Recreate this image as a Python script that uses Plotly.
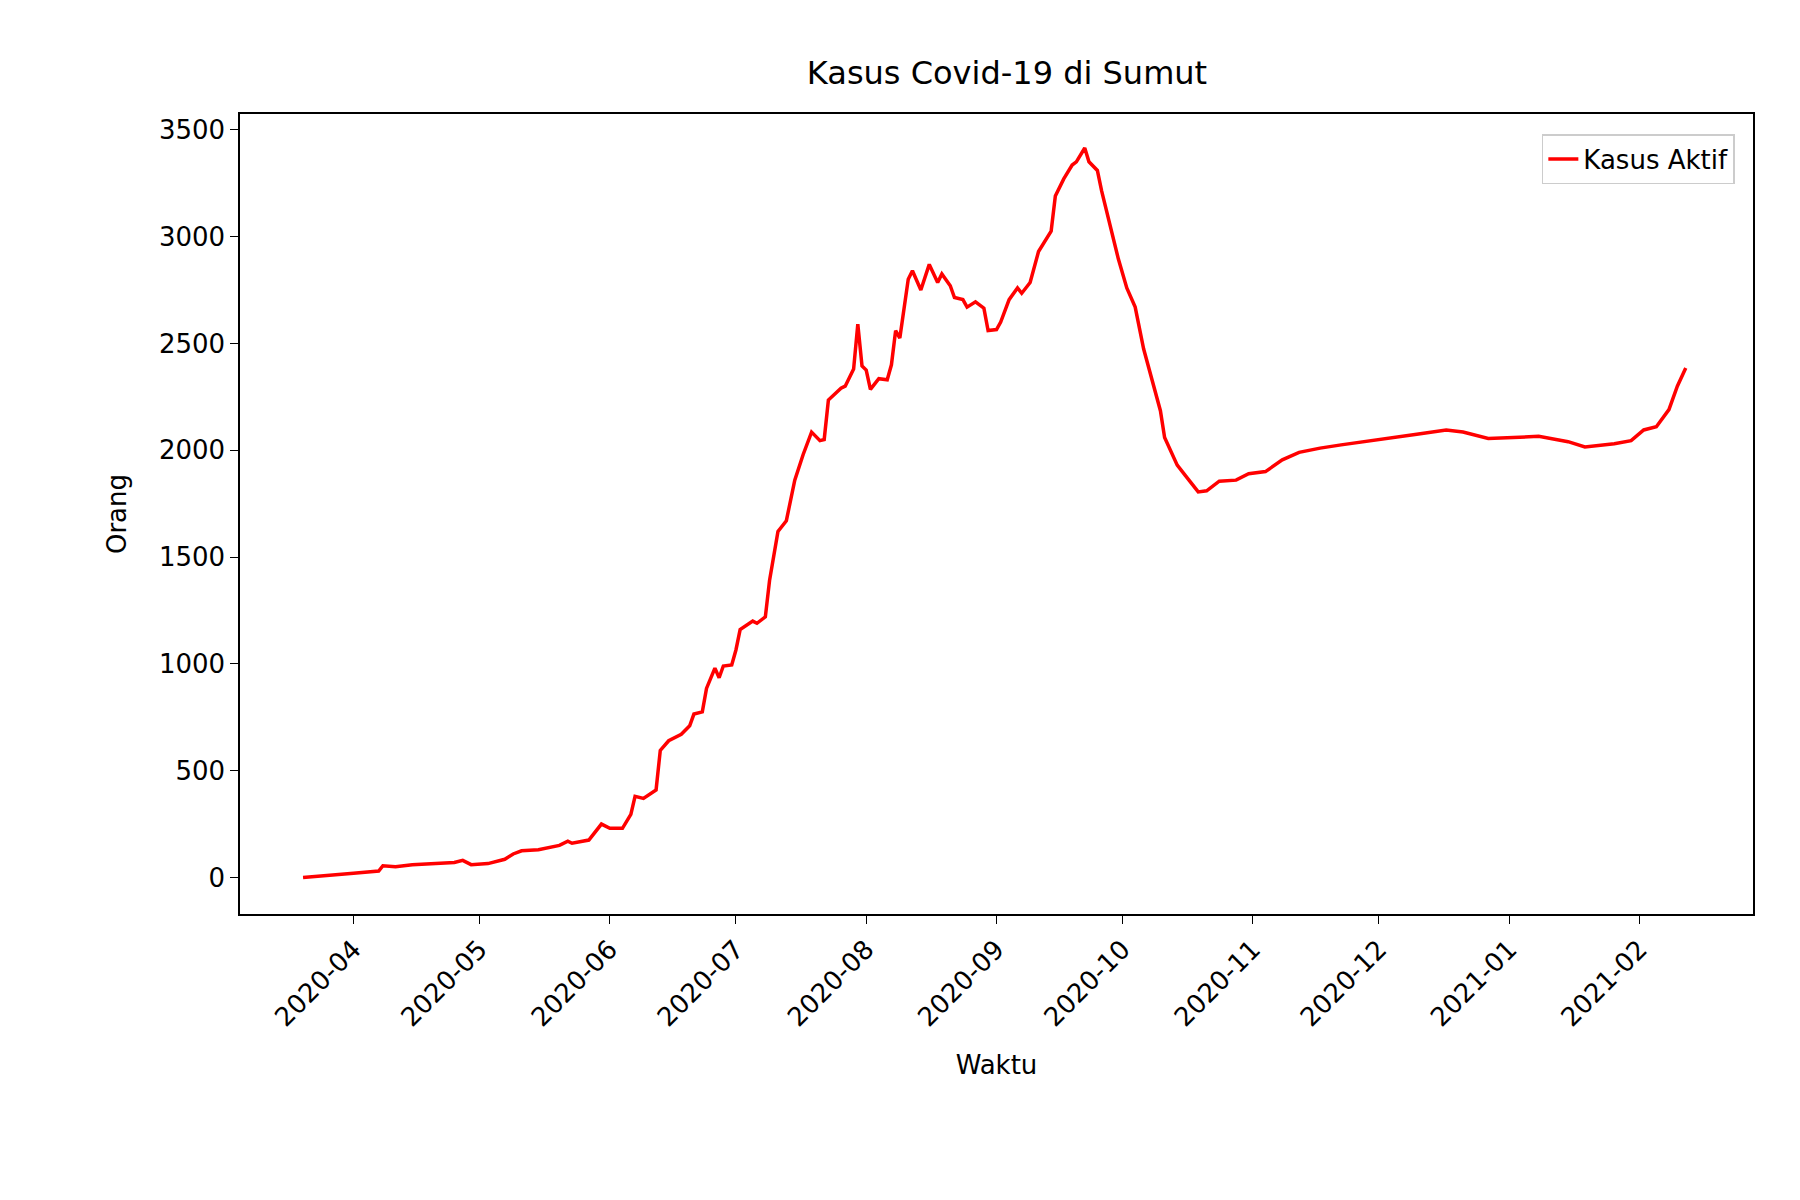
import plotly.graph_objects as go

# Active cases
dates = ["2020-03-20", "2020-03-27", "2020-04-01", "2020-04-07", "2020-04-08", "2020-04-11", "2020-04-15",
         "2020-04-25", "2020-04-27", "2020-04-29", "2020-05-03", "2020-05-07", "2020-05-09", "2020-05-11",
         "2020-05-15", "2020-05-20", "2020-05-22", "2020-05-23", "2020-05-27", "2020-05-30", "2020-06-01",
         "2020-06-04", "2020-06-06", "2020-06-07", "2020-06-09", "2020-06-12", "2020-06-13", "2020-06-15",
         "2020-06-18", "2020-06-20", "2020-06-21", "2020-06-23", "2020-06-24", "2020-06-26", "2020-06-27",
         "2020-06-28", "2020-06-30", "2020-07-01", "2020-07-02", "2020-07-05", "2020-07-06", "2020-07-08",
         "2020-07-09", "2020-07-11", "2020-07-13", "2020-07-15", "2020-07-17", "2020-07-19", "2020-07-21",
         "2020-07-22", "2020-07-23", "2020-07-26", "2020-07-27", "2020-07-29", "2020-07-30", "2020-07-31",
         "2020-08-01", "2020-08-02", "2020-08-04", "2020-08-06", "2020-08-07", "2020-08-08", "2020-08-09",
         "2020-08-11", "2020-08-12", "2020-08-14", "2020-08-16", "2020-08-18", "2020-08-19", "2020-08-21",
         "2020-08-22", "2020-08-24", "2020-08-25", "2020-08-27", "2020-08-29", "2020-08-30", "2020-09-01",
         "2020-09-02", "2020-09-04", "2020-09-06", "2020-09-07", "2020-09-09", "2020-09-11", "2020-09-14",
         "2020-09-15", "2020-09-17", "2020-09-19", "2020-09-20", "2020-09-22", "2020-09-23", "2020-09-25",
         "2020-09-26", "2020-09-28", "2020-09-30", "2020-10-02", "2020-10-04", "2020-10-06", "2020-10-08",
         "2020-10-10", "2020-10-11", "2020-10-14", "2020-10-16", "2020-10-19", "2020-10-21", "2020-10-24",
         "2020-10-28", "2020-10-31", "2020-11-04", "2020-11-08", "2020-11-12", "2020-11-17", "2020-11-22",
         "2020-11-27", "2020-12-02", "2020-12-10", "2020-12-17", "2020-12-21", "2020-12-27", "2021-01-01",
         "2021-01-08", "2021-01-15", "2021-01-19", "2021-01-26", "2021-01-30", "2021-02-02", "2021-02-05",
         "2021-02-08", "2021-02-10", "2021-02-12"]
kasus_aktif = [0, 10, 20, 30, 55, 50, 60,
               70, 80, 60, 65, 85, 110, 125,
               130, 150, 170, 160, 175, 250, 230,
               230, 295, 380, 370, 410, 595, 640,
               670, 710, 765, 775, 885, 980, 935,
               990, 995, 1065, 1160, 1200, 1190, 1220,
               1390, 1620, 1670, 1860, 1980, 2085, 2045,
               2050, 2235, 2290, 2300, 2380, 2590, 2395,
               2375, 2285, 2335, 2330, 2400, 2560, 2525,
               2800, 2840, 2750, 2870, 2785, 2825, 2770,
               2715, 2705, 2670, 2695, 2665, 2560, 2565,
               2600, 2705, 2760, 2735, 2785, 2930, 3025,
               3190, 3270, 3335, 3350, 3415, 3350, 3310,
               3215, 3055, 2895, 2760, 2670, 2475, 2330,
               2185, 2060, 1930, 1880, 1805, 1810, 1855,
               1860, 1890, 1900, 1955, 1990, 2010, 2025,
               2040, 2055, 2075, 2095, 2085, 2055, 2060,
               2065, 2040, 2015, 2030, 2045, 2095, 2110,
               2190, 2300, 2385]

fig = go.Figure()
fig.add_trace(go.Scatter(x=dates, y=kasus_aktif, mode="lines", name="Kasus Aktif",
                         line=dict(color="red", width=3.5), showlegend=True))

axis_style = dict(showline=True, linecolor="black", linewidth=1.5, mirror=True,
                  ticks="outside", ticklen=8, tickcolor="black", showgrid=False, zeroline=False,
                  tickfont=dict(size=26, color="black"))

fig.update_layout(
    width=1800, height=1200,
    paper_bgcolor="white", plot_bgcolor="white",
    font=dict(family="DejaVu Sans", color="black"),
    showlegend=True,
    title=dict(text="Kasus Covid-19 di Sumut", x=0.555, xanchor="center", y=0.955, font=dict(size=32)),
    margin=dict(l=232, r=55, t=106, b=294),
    xaxis=dict(axis_style, range=["2020-03-05", "2021-02-28"], dtick="M1", tick0="2020-04-01",
               tickformat="%Y-%m", tickangle=-45,
               title=dict(text="Waktu", font=dict(size=26), standoff=25)),
    yaxis=dict(axis_style, range=[-171, 3574], dtick=500,
               title=dict(text="Orang", font=dict(size=26), standoff=25)),
    legend=dict(x=0.988, y=0.975, xanchor="right", yanchor="top", bordercolor="#cccccc", borderwidth=1.5,
                font=dict(size=26), bgcolor="white"),
)

fig.write_html("out.html")
